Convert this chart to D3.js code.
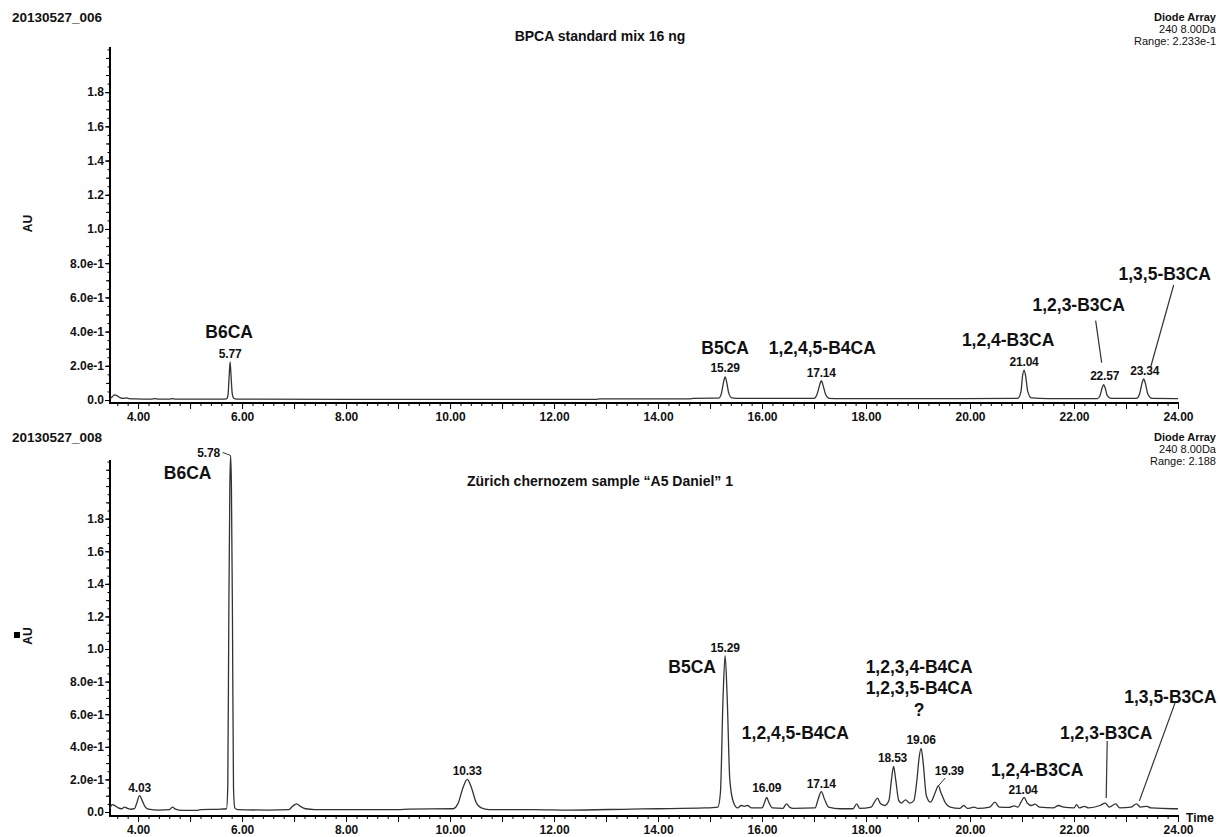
<!DOCTYPE html>
<html>
<head>
<meta charset="utf-8">
<script src="https://cdn.jsdelivr.net/npm/d3@7"></script>
<style>
  body { margin: 0; background: #fff; }
  svg text { font-family: "Liberation Sans", Arial, sans-serif; fill: #111; }
</style>
</head>
<body>
<svg id="chart" width="1220" height="837"></svg>
<script>
// ---------------- data ----------------
// Run 20130527_006: BPCA standard mix, trace samples [time (min), absorbance (AU)]
const stdTrace = [
  [3.46,0.008],[3.50,0.018],[3.55,0.03],[3.60,0.024],[3.66,0.012],[3.72,0.009],[3.77,0.013],[3.82,0.008],
  [3.95,0.006],[4.25,0.005],[4.32,0.008],[4.40,0.005],[4.60,0.005],[4.66,0.008],[4.72,0.005],[5.60,0.005],
  [5.70,0.006],[5.73,0.03],[5.75,0.13],[5.77,0.223],[5.79,0.13],[5.81,0.04],[5.84,0.01],[5.90,0.005],
  [8.00,0.004],[12.80,0.004],[12.88,0.007],[14.60,0.007],[14.68,0.01],[15.17,0.011],[15.22,0.04],
  [15.26,0.105],[15.29,0.135],[15.32,0.105],[15.36,0.04],[15.42,0.012],[15.60,0.009],[17.00,0.009],
  [17.06,0.035],[17.11,0.09],[17.14,0.113],[17.17,0.09],[17.22,0.035],[17.29,0.01],[17.50,0.008],
  [19.80,0.008],[20.92,0.009],[20.98,0.05],[21.01,0.14],[21.04,0.175],[21.07,0.14],[21.11,0.05],
  [21.18,0.012],[21.50,0.008],[22.45,0.008],[22.50,0.025],[22.54,0.07],[22.57,0.09],[22.60,0.07],
  [22.64,0.025],[22.71,0.009],[23.20,0.009],[23.26,0.035],[23.31,0.1],[23.34,0.123],[23.37,0.1],
  [23.42,0.035],[23.50,0.009],[24.00,0.008]
];

// Run 20130527_008: Zürich chernozem sample, trace samples [time (min), absorbance (AU)]
const soilTrace = [
  [3.46,0.02],[3.50,0.045],[3.56,0.038],[3.62,0.025],[3.68,0.02],[3.74,0.03],[3.80,0.022],[3.86,0.017],
  [3.93,0.02],[3.97,0.05],[4.03,0.10],[4.08,0.07],[4.13,0.035],[4.20,0.018],[4.40,0.012],[4.60,0.014],
  [4.66,0.03],[4.72,0.018],[4.85,0.01],[5.15,0.01],[5.20,0.015],[5.60,0.018],[5.70,0.02],[5.725,0.15],
  [5.745,1.2],[5.765,2.0],[5.78,2.188],[5.795,2.0],[5.815,1.2],[5.835,0.15],[5.86,0.025],[5.92,0.014],
  [6.50,0.012],[6.90,0.015],[6.97,0.035],[7.05,0.05],[7.12,0.035],[7.22,0.02],[7.40,0.015],[9.00,0.015],
  [9.20,0.018],[10.05,0.02],[10.15,0.05],[10.25,0.15],[10.33,0.20],[10.41,0.15],[10.50,0.06],[10.60,0.025],
  [10.75,0.015],[11.60,0.015],[12.30,0.012],[13.50,0.018],[14.00,0.02],[14.90,0.025],[15.15,0.03],
  [15.20,0.12],[15.25,0.7],[15.29,0.96],[15.33,0.7],[15.38,0.2],[15.45,0.06],[15.53,0.025],[15.60,0.04],
  [15.66,0.035],[15.72,0.04],[15.80,0.025],[16.00,0.025],[16.05,0.06],[16.09,0.09],[16.13,0.06],
  [16.20,0.025],[16.40,0.022],[16.47,0.05],[16.53,0.03],[16.60,0.022],[17.02,0.025],[17.08,0.08],
  [17.14,0.125],[17.20,0.08],[17.28,0.03],[17.50,0.02],[17.75,0.02],[17.82,0.05],[17.88,0.022],
  [18.10,0.03],[18.16,0.06],[18.22,0.085],[18.28,0.05],[18.36,0.04],[18.44,0.07],[18.49,0.2],[18.53,0.28],
  [18.57,0.2],[18.63,0.07],[18.68,0.055],[18.76,0.075],[18.84,0.055],[18.92,0.07],[18.98,0.2],[19.02,0.33],
  [19.06,0.39],[19.10,0.3],[19.16,0.1],[19.24,0.06],[19.32,0.11],[19.39,0.16],[19.44,0.12],[19.52,0.06],
  [19.62,0.03],[19.80,0.022],[19.88,0.04],[19.95,0.022],[20.08,0.03],[20.15,0.022],[20.38,0.03],
  [20.48,0.06],[20.56,0.03],[20.75,0.028],[20.85,0.038],[20.92,0.03],[20.98,0.06],[21.04,0.09],
  [21.10,0.055],[21.18,0.04],[21.25,0.048],[21.34,0.03],[21.60,0.025],[21.70,0.04],[21.80,0.03],
  [22.00,0.025],[22.05,0.045],[22.10,0.025],[22.20,0.035],[22.28,0.025],[22.50,0.04],[22.60,0.055],
  [22.68,0.03],[22.80,0.05],[22.88,0.025],[23.10,0.03],[23.20,0.05],[23.28,0.03],[23.40,0.035],
  [23.48,0.025],[23.90,0.02],[24.00,0.02]
];

// Integrated peaks (retention time labels) and their apex absorbance
const stdPeakRT = [5.77, 15.29, 17.14, 21.04, 22.57, 23.34];
const stdPeakAU = [0.223, 0.135, 0.113, 0.175, 0.09, 0.123];
const soilPeakRT = [4.03, 5.78, 10.33, 15.29, 16.09, 17.14, 18.53, 19.06, 19.39, 21.04];
const soilPeakAU = [0.10, 2.188, 0.20, 0.96, 0.09, 0.125, 0.28, 0.39, 0.16, 0.09];

// Compound assignments: name and the peak (time, AU) it belongs to
const stdCompounds = ["B6CA", "B5CA", "1,2,4,5-B4CA", "1,2,4-B3CA", "1,2,3-B3CA", "1,3,5-B3CA"];
const stdCompoundRT = [5.77, 15.29, 17.14, 21.04, 22.57, 23.34];
const stdCompoundAU = [0.223, 0.135, 0.113, 0.175, 0.09, 0.123];
const soilCompounds = ["B6CA", "B5CA", "1,2,4,5-B4CA", "1,2,3,4-B4CA", "1,2,3,5-B4CA", "?",
                       "1,2,4-B3CA", "1,2,3-B3CA", "1,3,5-B3CA"];
const soilCompoundRT = [5.78, 15.29, 17.14, 19.06, 19.06, 19.06, 21.04, 22.60, 23.20];
const soilCompoundAU = [2.188, 0.96, 0.125, 0.39, 0.39, 0.39, 0.09, 0.055, 0.05];

// Axis ticks
const timeTickValues = [4, 6, 8, 10, 12, 14, 16, 18, 20, 22, 24];
const timeTickLabels = ["4.00", "6.00", "8.00", "10.00", "12.00", "14.00", "16.00", "18.00", "20.00", "22.00", "24.00"];
const auTickValues = [0, 0.2, 0.4, 0.6, 0.8, 1.0, 1.2, 1.4, 1.6, 1.8];
const auTickLabels = ["0.0", "2.0e-1", "4.0e-1", "6.0e-1", "8.0e-1", "1.0", "1.2", "1.4", "1.6", "1.8"];

// Header texts
const runIds = ["20130527_006", "20130527_008"];
const titles = ["BPCA standard mix 16 ng", "Zürich chernozem sample \u201CA5 Daniel\u201D 1"];
const detectorLines = [
  ["Diode Array", "240 8.00Da", "Range: 2.233e-1"],
  ["Diode Array", "240 8.00Da", "Range: 2.188"]
];

// ---------------- layout ----------------
const X0 = 110, X1 = 1178;
const timeDomain = [3.46, 24.0];
const panels = [
  { top: 47, zero: 400, axisY: 403, auMax: 2.064, headerY: 26, titleY: 41 },
  { top: 460, zero: 812, axisY: 816, auMax: 2.16, headerY: 446, titleY: 486 }
];

// label offsets (px) relative to the peak apex: [dx, dy]
const stdPeakLabelOffset = [[0, -4], [0, -5], [0, -4], [0, -4], [1, -5], [1, -4]];
const soilPeakLabelOffset = [[0, -4], [-22, 2], [0, -4], [0, -4], [0, -5], [0, -4], [-1, -4], [0, -4], [11, -11], [-1, -3]];
const stdCompoundOffset = [[-1, -24], [0, -23], [1, -27], [-16, -24], [-25, -74], [21, -99]];
const soilCompoundOffset = [[-43, 24], [-33, 17], [-26, -53], [-2, -75], [-2, -54], [-2, -32], [13, -21], [1, -64], [34, -101]];
// leader lines: [compound/peak index, start dx, start dy, end dx, end dy]
const stdLeaders = [[4, -8, -64, -2, -22], [5, 30, -94, 7, -12]];
const soilCompoundLeaders = [[7, 2, -62, 1, -5], [8, 39, -102, 3, -3]];
const soilPeakLeaders = [[1, -8, -3, 0, 0], [8, 7, -8, 0, 0]];

const svg = d3.select("#chart");

const x = d3.scaleLinear().domain(timeDomain).range([X0, X1]);

const line = d3.line()
  .x(d => x(d[0]))
  .curve(d3.curveMonotoneX);

function drawPanel(p, idx, trace, peakRT, peakAU, peakOff, compounds, compRT, compAU, compOff, compLeaders, peakLeaders) {
  const y = d3.scaleLinear().domain([0, p.auMax]).range([p.zero, p.top]);
  const g = svg.append("g");

  // header texts
  g.append("text").attr("x", 12).attr("y", p.headerY - 4)
    .attr("font-size", 13.5).attr("font-weight", "bold").text(runIds[idx]);
  g.append("text").attr("x", 600).attr("y", p.titleY).attr("text-anchor", "middle")
    .attr("font-size", 14).attr("font-weight", "bold").text(titles[idx]);
  detectorLines[idx].forEach((t, i) => {
    g.append("text").attr("x", 1216).attr("y", p.headerY - 5 + i * 12).attr("text-anchor", "end")
      .attr("font-size", 11).attr("font-weight", i === 0 ? "bold" : "normal").text(t);
  });

  // y axis: minor 0.05, medium 0.1, labelled 0.2
  const minor = d3.range(0, p.auMax, 0.05).map(v => +v.toFixed(2));
  const yMinor = d3.axisLeft(y).tickValues(minor).tickSize(2.5).tickFormat("");
  const yMed = d3.axisLeft(y).tickValues(minor.filter((v, i) => i % 2 === 0)).tickSize(4).tickFormat("");
  const yMajor = d3.axisLeft(y).tickValues(auTickValues).tickSize(5)
    .tickFormat((d, i) => auTickLabels[i]);
  [yMinor, yMed, yMajor].forEach(ax => {
    const a = g.append("g").attr("transform", `translate(${X0},0)`).call(ax);
    a.select(".domain").remove();
    a.selectAll("line").attr("stroke", "#000");
    a.selectAll("text").attr("font-size", 12).attr("font-weight", "bold").attr("fill", "#111")
      .attr("font-family", "Liberation Sans, Arial, sans-serif").attr("x", -6);
  });
  g.append("line").attr("x1", X0).attr("x2", X0).attr("y1", p.top).attr("y2", p.axisY)
    .attr("stroke", "#000").attr("stroke-width", 2);

  // x axis (offset slightly below zero absorbance)
  const tMinor = d3.range(3.6, 24.01, 0.2).map(v => +v.toFixed(1));
  const xMinor = d3.axisBottom(x).tickValues(tMinor).tickSize(3).tickFormat("");
  const xInt = d3.axisBottom(x).tickValues(d3.range(4, 25, 1)).tickSize(6).tickFormat("");
  const xMajor = d3.axisBottom(x).tickValues(timeTickValues).tickSize(0)
    .tickFormat((d, i) => timeTickLabels[i]);
  [xMinor, xInt, xMajor].forEach(ax => {
    const a = g.append("g").attr("transform", `translate(0,${p.axisY})`).call(ax);
    a.select(".domain").remove();
    a.selectAll("line").attr("stroke", "#000");
    a.selectAll("text").attr("font-size", 12).attr("font-weight", "bold").attr("fill", "#111")
      .attr("font-family", "Liberation Sans, Arial, sans-serif").attr("y", 9);
  });
  g.append("line").attr("x1", X0 - 1).attr("x2", X1 + 1).attr("y1", p.axisY).attr("y2", p.axisY)
    .attr("stroke", "#000").attr("stroke-width", 2);

  // AU label
  g.append("text").attr("transform", `translate(32,${(p.top + p.zero) / 2}) rotate(-90)`)
    .attr("text-anchor", "middle").attr("font-size", 12).attr("font-weight", "bold").text("AU");

  // trace
  g.append("path").datum(trace)
    .attr("d", line.y(d => y(d[1])))
    .attr("fill", "none").attr("stroke", "#333").attr("stroke-width", 1.3)
    .attr("stroke-linejoin", "round");

  // retention time labels
  peakRT.forEach((rt, i) => {
    g.append("text")
      .attr("x", x(rt) + peakOff[i][0]).attr("y", y(peakAU[i]) + peakOff[i][1])
      .attr("text-anchor", "middle").attr("font-size", 12).attr("font-weight", "bold")
      .attr("letter-spacing", -0.2).text(rt.toFixed(2));
  });
  peakLeaders.forEach(l => {
    const px = x(peakRT[l[0]]), py = y(peakAU[l[0]]);
    g.append("line").attr("x1", px + l[1]).attr("y1", py + l[2]).attr("x2", px + l[3]).attr("y2", py + l[4])
      .attr("stroke", "#333").attr("stroke-width", 1);
  });

  // compound names
  compounds.forEach((name, i) => {
    g.append("text")
      .attr("x", x(compRT[i]) + compOff[i][0]).attr("y", y(compAU[i]) + compOff[i][1])
      .attr("text-anchor", "middle").attr("font-size", 17.5).attr("font-weight", "bold").text(name);
  });
  compLeaders.forEach(l => {
    const px = x(compRT[l[0]]), py = y(compAU[l[0]]);
    g.append("line").attr("x1", px + l[1]).attr("y1", py + l[2]).attr("x2", px + l[3]).attr("y2", py + l[4])
      .attr("stroke", "#333").attr("stroke-width", 1.2);
  });
  return g;
}

drawPanel(panels[0], 0, stdTrace, stdPeakRT, stdPeakAU, stdPeakLabelOffset,
  stdCompounds, stdCompoundRT, stdCompoundAU, stdCompoundOffset, stdLeaders, []);
const g2 = drawPanel(panels[1], 1, soilTrace, soilPeakRT, soilPeakAU, soilPeakLabelOffset,
  soilCompounds, soilCompoundRT, soilCompoundAU, soilCompoundOffset, soilCompoundLeaders, soilPeakLeaders);

// small marker beside the lower AU label
g2.append("rect").attr("x", 14).attr("y", 632).attr("width", 6).attr("height", 6).attr("fill", "#000");

// "Time" unit at the end of the lower axis
g2.append("text").attr("x", 1200).attr("y", 822).attr("text-anchor", "middle")
  .attr("font-size", 12).attr("font-weight", "bold").text("Time");
</script>
</body>
</html>
